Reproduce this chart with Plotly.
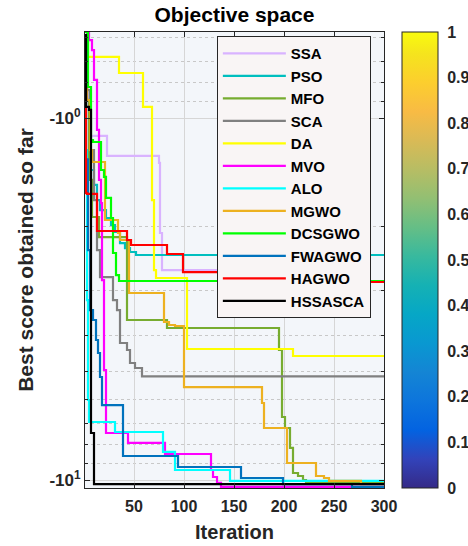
import plotly.graph_objects as go

# Convergence histories: (iteration, best score) breakpoints; the score holds
# its value until the next breakpoint (step-shaped convergence curves).
iterations_max = 300

ssa_iter = [1, 3, 5, 7, 23, 75, 76, 78, 260, 300]
ssa_score = [-0.590, -0.850, -1.000, -1.121, -1.273, -1.331, -2.078, -2.630, -2.838, -2.838]

pso_iter = [1, 3, 6, 10, 13, 16, 22, 27, 31, 36, 41, 46, 52, 300]
pso_score = [-0.609, -0.892, -1.392, -1.531, -1.685, -1.796, -1.889, -1.975, -2.065, -2.215,
             -2.287, -2.345, -2.390, -2.390]

mfo_iter = [1, 3, 5, 8, 15, 43, 83, 195, 198, 201, 206, 209, 214, 219, 222, 300]
mfo_score = [-0.578, -0.891, -1.483, -1.877, -2.132, -3.614, -3.803, -4.374, -6.698, -7.184,
             -8.156, -9.565, -9.750, -10.00, -10.19, -10.19]

sca_iter = [1, 3, 6, 10, 13, 16, 29, 33, 36, 43, 46, 51, 58, 300]
sca_score = [-0.578, -0.837, -1.226, -1.685, -2.316, -2.750, -3.183, -3.392, -4.184, -4.374,
             -4.751, -4.905, -5.170, -5.170]

da_iter = [1, 4, 35, 59, 68, 70, 72, 103, 209, 300]
da_score = [-0.590, -0.678, -0.751, -0.932, -1.685, -2.630, -2.767, -4.346, -4.544, -4.544]

mvo_iter = [1, 5, 8, 10, 13, 15, 17, 18, 20, 22, 44, 81, 127, 129, 133, 137, 300]
mvo_score = [-0.578, -0.609, -0.649, -0.785, -1.079, -1.483, -1.718, -2.803, -4.968, -7.416,
             -7.901, -8.475, -9.384, -9.811, -10.19, -10.45, -10.45]

alo_iter = [1, 2, 3, 4, 5, 31, 79, 91, 146, 300]
alo_score = [-0.609, -1.226, -3.183, -6.012, -6.915, -7.369, -8.367, -9.384, -10.06, -10.06]

mgwo_iter = [1, 3, 6, 8, 21, 34, 36, 45, 80, 85, 91, 100, 178, 180, 203, 232, 240, 245, 277, 300]
mgwo_score = [-0.590, -0.892, -1.226, -1.323, -1.913, -2.078, -2.173, -3.044, -3.660, -3.731,
              -3.755, -5.536, -6.128, -7.184, -8.974, -9.750, -9.875, -10.06, -10.26, -10.26]

dcsgwo_iter = [1, 4, 7, 9, 17, 20, 22, 27, 29, 32, 35, 300]
dcsgwo_score = [-0.578, -0.821, -1.150, -1.165, -1.392, -1.455, -1.663, -1.889, -2.360, -2.715,
                -2.820, -2.820]

fwagwo_iter = [1, 2, 4, 6, 9, 12, 14, 16, 18, 39, 94, 157, 199, 268, 300]
fwagwo_score = [-0.609, -1.300, -2.316, -3.392, -3.614, -4.105, -4.458, -5.194, -6.207, -8.584,
                -9.206, -9.875, -10.26, -10.45, -10.45]

hagwo_iter = [1, 2, 3, 13, 43, 47, 83, 99, 240, 300]
hagwo_score = [-0.821, -1.611, -1.621, -2.052, -2.173, -2.243, -2.375, -2.664, -2.838, -2.838]

hssasca_iter = [1, 2, 5, 7, 10, 300]
hssasca_score = [-0.590, -0.932, -0.950, -7.416, -10.26, -10.26]

names = ["SSA", "PSO", "MFO", "SCA", "DA", "MVO", "ALO", "MGWO", "DCSGWO", "FWAGWO", "HAGWO", "HSSASCA"]
colors = ["#d9b3ff", "#00bfbf", "#77ac30", "#808080", "#ffff00", "#ff00ff", "#00ffff",
          "#edb120", "#00ff00", "#0072bd", "#ff0000", "#000000"]
series = [(ssa_iter, ssa_score), (pso_iter, pso_score), (mfo_iter, mfo_score),
          (sca_iter, sca_score), (da_iter, da_score), (mvo_iter, mvo_score),
          (alo_iter, alo_score), (mgwo_iter, mgwo_score), (dcsgwo_iter, dcsgwo_score),
          (fwagwo_iter, fwagwo_score), (hagwo_iter, hagwo_score), (hssasca_iter, hssasca_score)]

# Colour bar scale (parula-like map), 0..1
colorbar_ticks = [0, 0.1, 0.2, 0.3, 0.4, 0.5, 0.6, 0.7, 0.8, 0.9, 1]
parula_rgb = [
    (0.2081, 0.1663, 0.5292), (0.1959, 0.2645, 0.7279), (0.0117, 0.3875, 0.8820),
    (0.0498, 0.4586, 0.8641), (0.0793, 0.5200, 0.8312), (0.0343, 0.5966, 0.8199),
    (0.0228, 0.6535, 0.7768), (0.0843, 0.6928, 0.7062), (0.2178, 0.7250, 0.6193),
    (0.3953, 0.7459, 0.5244), (0.5709, 0.7485, 0.4494), (0.7184, 0.7411, 0.3905),
    (0.8507, 0.7299, 0.3360), (0.9739, 0.7314, 0.2666), (0.9880, 0.8066, 0.1794),
    (0.9589, 0.8949, 0.1132), (0.9763, 0.9831, 0.0538),
]
parula_pos = [0, 4, 8, 12, 16, 20, 24, 28, 32, 36, 40, 44, 48, 52, 56, 60, 63]

x_ticks = [50, 100, 150, 200, 250, 300]
y_major = [1, 10]
y_major_text = ["-10<sup>0</sup>", "-10<sup>1</sup>"]
y_minor = [0.6, 0.7, 0.8, 0.9, 2, 3, 4, 5, 6, 7, 8, 9]

colorscale = [[p / 63, "rgb(%d,%d,%d)" % tuple(round(c * 255) for c in rgb)]
              for p, rgb in zip(parula_pos, parula_rgb)]

AX = "#262626"
FONT = "Liberation Sans"

fig = go.Figure()
for name, color, (it, sc) in zip(names, colors, series):
    fig.add_trace(go.Scatter(
        x=it, y=[-s for s in sc], name=name, mode="lines",
        line=dict(color=color, width=2.2, shape="hv"),
    ))

# invisible carrier for the colour bar
fig.add_trace(go.Scatter(
    x=[150, 150], y=[2, 2], mode="markers", showlegend=False, hoverinfo="skip",
    marker=dict(size=0, color=[0, 1], cmin=0, cmax=1, colorscale=colorscale, showscale=True,
                colorbar=dict(
                    x=1.06, xanchor="left", xpad=0, y=0.5, yanchor="middle", len=1, ypad=0,
                    thickness=36, outlinecolor=AX, outlinewidth=1,
                    tickvals=colorbar_ticks, ticktext=[("%g" % v) for v in colorbar_ticks],
                    ticks="outside", ticklen=6, tickcolor="rgba(0,0,0,0)",
                    tickfont=dict(size=16, color=AX, family=FONT, weight="bold"),
                )),
))

fig.update_layout(
    width=468, height=546,
    margin=dict(l=85, r=84, t=32, b=58, autoexpand=False),
    paper_bgcolor="white", plot_bgcolor="#f3f6fa",
    font=dict(family=FONT, color=AX, size=16, weight="bold"),
    title=dict(text="Objective space", x=0.5, xref="paper", xanchor="center",
               y=1 - 15 / 546, yanchor="middle",
               font=dict(size=21, color="#000000", family=FONT, weight="bold")),
    legend=dict(x=0.441, y=0.991, xanchor="left", yanchor="top",
                bgcolor="#f9f5f5", bordercolor=AX, borderwidth=1,
                font=dict(size=15, color="#000000", family=FONT, weight="bold"),
                itemwidth=63, tracegroupgap=0),
    showlegend=True,
)

fig.update_xaxes(
    range=[1, iterations_max], tickvals=x_ticks, ticks="inside", ticklen=5, tickcolor=AX,
    showline=True, linecolor=AX, linewidth=1, mirror="ticks",
    showgrid=True, gridcolor="#d6d6d6", gridwidth=1, zeroline=False,
    tickfont=dict(size=16, color=AX, family=FONT, weight="bold"), ticklabelstandoff=4,
    title=dict(text="Iteration", standoff=10,
               font=dict(size=20, color=AX, family=FONT, weight="bold")),
)

fig.update_yaxes(
    type="log", range=[1.0221, -0.2376], tickvals=y_major, ticktext=y_major_text,
    ticks="inside", ticklen=5, tickcolor=AX,
    showline=True, linecolor=AX, linewidth=1, mirror="ticks",
    showgrid=True, gridcolor="#d6d6d6", gridwidth=1, zeroline=False,
    tickfont=dict(size=17, color=AX, family=FONT, weight="bold"),
    minor=dict(tickvals=y_minor, ticks="inside", ticklen=3, tickcolor=AX,
               showgrid=True, gridcolor="#c8c8c8", griddash="dot", gridwidth=1),
    title=dict(text="Best score obtained so far", standoff=10,
               font=dict(size=21, color=AX, family=FONT, weight="bold")),
)

fig.write_html("out.html")
